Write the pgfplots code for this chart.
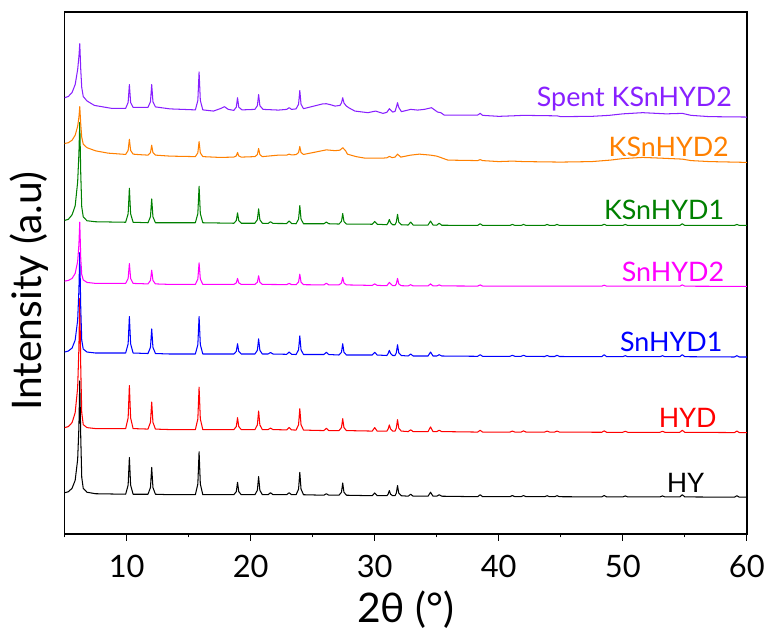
\documentclass[border=0pt]{standalone}
\usepackage{pgfplots}
\pgfplotsset{compat=1.18}
\usepackage{fontspec}
\setmainfont{Lato}
\definecolor{cviolet}{RGB}{136,32,255}
\definecolor{corange}{RGB}{255,128,0}
\definecolor{cgreen}{RGB}{0,128,0}
\definecolor{cmagenta}{RGB}{255,0,255}
\definecolor{cblue}{RGB}{0,0,255}
\definecolor{cred}{RGB}{255,0,0}
\begin{document}
\begin{tikzpicture}
\begin{axis}[
  scale only axis, width=686pt, height=525pt,
  xmin=5, xmax=60, ymin=12, ymax=537, y dir=reverse,
  axis line style={line width=1.6pt},
  xtick={10,20,...,60}, minor xtick={5,15,...,55},
  xtick pos=bottom, tick align=outside,
  major tick length=7pt, minor tick length=3.5pt,
  ytick=\empty,
  every tick/.style={black, line width=1.2pt},
  ticklabel style={font=\fontsize{31}{34}\selectfont},
  xticklabel style={yshift=-11pt},
  /pgf/number format/assume math mode=true,
  xlabel={2θ (°)}, ylabel={Intensity (a.u)},
  label style={font=\fontsize{41}{44}\selectfont},
  xlabel style={at={(axis description cs:0.5,0)},anchor=north,yshift=-54pt},
  ylabel style={at={(axis description cs:-0.024,0.465)},anchor=south,inner sep=0pt},
  every axis plot/.append style={line width=1.05pt, line join=round},
]
% HY
\addplot[black] coordinates {
(5.0,495.5)(5.3,494.5)(5.6,491)(5.85,483)(6.05,462)(6.15,430)(6.22,383)(6.3,440)(6.38,480)(6.5,491)(6.8,495)(7.5,496.5)(9.92,497)
(10.12,487.8)(10.22,460)(10.32,487.8)(10.52,497)
(11.72,497)(11.92,490.3)(12.02,470)(12.12,490.3)(12.32,497)
(13.5,497.5)(15.54,497.5)(15.74,486.7)(15.84,454.3)(15.94,486.7)(16.14,497.5)
(18.64,497.5)(18.84,494.4)(18.94,485)(19.04,494.4)(19.24,497.5)
(20.34,497.5)(20.54,493)(20.64,479.3)(20.74,493)(20.94,497.5)
(21.4,497.5)(21.6,495.5)(21.8,497.5)
(22.9,497.5)(23.1,495.5)(23.3,497.5)
(23.66,497.5)(23.86,491.9)(23.96,475)(24.06,491.9)(24.26,497.5)
(25.9,498)(26.1,496.5)(26.3,498)
(27.12,498)(27.32,495)(27.42,485.7)(27.52,495)(27.72,498)
(29.8,498.5)(30.0,495.7)(30.2,498.5)
(30.98,498.5)(31.08,497)(31.18,493.3)(31.28,497)(31.45,498.5)
(31.64,498.5)(31.74,496)(31.84,488.3)(31.94,496)(32.14,498.5)
(32.7,499)(32.9,497)(33.1,499)
(34.3,499)(34.5,495)(34.7,499)
(35.0,499)(35.2,497.5)(35.4,499)
(38.3,499.5)(38.5,497.5)(38.7,499.5)
(40.9,499.5)(41.1,498.3)(41.3,499.5)
(41.8,499.5)(42.0,498.3)(42.2,499.5)
(43.7,499.5)(43.9,498.5)(44.1,499.5)
(44.5,499.5)(44.7,498.5)(44.9,499.5)
(48.3,499.7)(48.5,498.3)(48.7,499.7)
(50.0,499.7)(50.2,498.7)(50.4,499.7)
(53.0,499.7)(53.2,498.7)(53.4,499.7)
(54.6,499.7)(54.8,497.5)(55.0,499.7)
(59.0,500)(59.2,498.5)(59.4,500)(60,500)
};
% HYD
\addplot[cred] coordinates {
(5.0,430)(5.3,429)(5.6,425)(5.85,415)(6.05,390)(6.15,350)(6.22,300)(6.3,370)(6.38,415)(6.5,427)(6.8,430)(7.5,431)(9.92,431)
(10.12,420.2)(10.22,387.7)(10.32,420.2)(10.52,431)
(11.72,431.5)(11.92,424.7)(12.02,404.3)(12.12,424.7)(12.32,431.5)
(13.5,432)(15.54,432)(15.74,421.3)(15.84,389.3)(15.94,421.3)(16.14,432)
(18.64,432)(18.84,429)(18.94,420)(19.04,429)(19.24,432)
(20.34,432)(20.54,427.3)(20.64,413.3)(20.74,427.3)(20.94,432)
(21.4,432)(21.6,430.5)(21.8,432)
(22.9,432.3)(23.1,430)(23.3,432.3)
(23.66,432.5)(23.86,427.1)(23.96,411)(24.06,427.1)(24.26,432.5)
(25.9,433)(26.1,430.7)(26.3,433)
(27.12,433)(27.32,430)(27.42,421)(27.52,430)(27.72,433)
(29.8,433.5)(30.0,430)(30.2,433.5)
(30.98,433.5)(31.08,431.5)(31.18,427.3)(31.28,431.5)(31.45,433.5)
(31.64,433.5)(31.74,430.6)(31.84,422)(31.94,430.6)(32.14,433.5)
(32.7,434)(32.9,432.3)(33.1,434)
(34.3,434)(34.5,429.3)(34.7,434)
(35.0,434)(35.2,432.7)(35.4,434)
(38.3,434.5)(38.5,432.7)(38.7,434.5)
(40.9,434.5)(41.1,433.5)(41.3,434.5)
(41.8,434.5)(42.0,433.3)(42.2,434.5)
(43.7,434.5)(43.9,433.5)(44.1,434.5)
(44.5,434.5)(44.7,433.5)(44.9,434.5)
(48.3,434.7)(48.5,433.3)(48.7,434.7)
(50.0,434.7)(50.2,433.7)(50.4,434.7)
(53.0,434.7)(53.2,433.7)(53.4,434.7)
(54.6,434.7)(54.8,432.7)(55.0,434.7)
(59.0,435)(59.2,433.5)(59.4,435)(60,435)
};
% SnHYD1
\addplot[cblue] coordinates {
(5.0,354)(5.3,353)(5.6,350)(5.85,342)(6.05,322)(6.15,292)(6.22,254)(6.3,310)(6.38,342)(6.5,351)(6.8,354)(7.5,355)(9.92,355)
(10.12,345.8)(10.22,318.3)(10.32,345.8)(10.52,355)
(11.72,355.5)(11.92,349.3)(12.02,330.7)(12.12,349.3)(12.32,355.5)
(13.5,356)(15.54,356)(15.74,346.6)(15.84,318.3)(15.94,346.6)(16.14,356)
(18.64,356)(18.84,353.4)(18.94,345.7)(19.04,353.4)(19.24,356)
(20.34,356)(20.54,352.2)(20.64,340.7)(20.74,352.2)(20.94,356)
(21.4,356)(21.6,354.5)(21.8,356)
(22.9,356.3)(23.1,354)(23.3,356.3)
(23.66,356.5)(23.86,351.8)(23.96,337.7)(24.06,351.8)(24.26,356.5)
(25.9,356.5)(26.1,354.3)(26.3,356.5)
(27.12,357)(27.32,354.2)(27.42,345.7)(27.52,354.2)(27.72,357)
(29.8,357)(30.0,354.3)(30.2,357)
(30.98,357.5)(31.08,355.5)(31.18,352.3)(31.28,355.5)(31.45,357.5)
(31.64,357.5)(31.74,354.8)(31.84,346.7)(31.94,354.8)(32.14,357.5)
(32.7,358)(32.9,356)(33.1,358)
(34.3,358)(34.5,354)(34.7,358)
(35.0,358)(35.2,356.7)(35.4,358)
(38.3,358.3)(38.5,356.7)(38.7,358.3)
(40.9,358.3)(41.1,357.3)(41.3,358.3)
(41.8,358.3)(42.0,357.3)(42.2,358.3)
(43.7,358.5)(43.9,357.5)(44.1,358.5)
(44.5,358.5)(44.7,357.3)(44.9,358.5)
(48.3,358.7)(48.5,356.7)(48.7,358.7)
(50.0,358.7)(50.2,357.7)(50.4,358.7)
(53.0,358.7)(53.2,357.7)(53.4,358.7)
(54.6,358.7)(54.8,356.7)(55.0,358.7)
(59.0,359)(59.2,357.7)(59.4,359)(60,359)
};
% SnHYD2
\addplot[cmagenta] coordinates {
(5.0,282.7)(5.3,282)(5.6,280)(5.85,275)(6.05,263)(6.15,246)(6.22,223.3)(6.3,260)(6.38,276)(6.5,281.5)(6.8,284)(7.5,285)(9.92,285)
(10.12,280)(10.22,265)(10.32,280)(10.52,285)
(11.72,285.5)(11.92,282)(12.02,271.7)(12.12,282)(12.32,285.5)
(13.5,286)(15.54,286)(15.74,280.6)(15.84,264.3)(15.94,280.6)(16.14,286)
(18.64,286)(18.84,284.5)(18.94,280)(19.04,284.5)(19.24,286)
(20.34,286)(20.54,283.8)(20.64,277.3)(20.74,283.8)(20.94,286)
(22.9,286.2)(23.1,285)(23.3,286.2)
(23.66,286.3)(23.86,283.7)(23.96,275.7)(24.06,283.7)(24.26,286.3)
(25.9,286.5)(26.1,284.8)(26.3,286.5)
(27.12,286.5)(27.32,284.6)(27.42,279)(27.52,284.6)(27.72,286.5)
(29.8,287)(30.0,285.5)(30.2,287)
(30.98,287.3)(31.18,284)(31.45,287.3)
(31.64,287.3)(31.74,285.5)(31.84,280)(31.94,285.5)(32.14,287.3)
(32.7,287.5)(32.9,286.3)(33.1,287.5)
(34.3,287.5)(34.5,285.5)(34.7,287.5)
(35.0,287.5)(35.2,286.5)(35.4,287.5)
(38.3,287.7)(38.5,286.5)(38.7,287.7)
(48.3,287.8)(48.5,286.8)(48.7,287.8)
(54.6,287.8)(54.8,286.5)(55.0,287.8)
(60,288)
};
% KSnHYD1
\addplot[cgreen] coordinates {
(5.0,221.7)(5.3,220.5)(5.6,216)(5.85,207)(6.05,183)(6.15,155)(6.22,123)(6.3,175)(6.38,208)(6.5,218)(6.8,222)(7.5,223)(9.92,223.5)
(10.12,215)(10.22,189.3)(10.32,215)(10.52,223.5)
(11.72,224)(11.92,218)(12.02,200)(12.12,218)(12.32,224)
(13.5,224)(15.54,224)(15.74,214.8)(15.84,187.3)(15.94,214.8)(16.14,224)
(18.64,224.5)(18.84,221.9)(18.94,214)(19.04,221.9)(19.24,224.5)
(20.34,224.5)(20.54,220.9)(20.64,210)(20.74,220.9)(20.94,224.5)
(21.4,224.7)(21.6,223)(21.8,224.7)
(22.9,224.8)(23.1,222.3)(23.3,224.8)
(23.66,225)(23.86,220.4)(23.96,206.7)(24.06,220.4)(24.26,225)
(25.9,225)(26.1,223.3)(26.3,225)
(27.12,225.3)(27.32,222.7)(27.42,214.7)(27.52,222.7)(27.72,225.3)
(29.8,225.5)(30.0,222.7)(30.2,225.5)
(30.98,226)(31.08,224)(31.18,220.7)(31.28,224)(31.45,226)
(31.64,226)(31.74,223.4)(31.84,215.5)(31.94,223.4)(32.14,226)
(32.7,226.3)(32.9,223.3)(33.1,226.3)
(34.3,226.3)(34.5,222.3)(34.7,226.3)
(35.0,226.5)(35.2,224.5)(35.4,226.5)
(38.3,226.7)(38.5,225)(38.7,226.7)
(40.9,226.7)(41.1,225.7)(41.3,226.7)
(41.8,226.7)(42.0,225.7)(42.2,226.7)
(43.7,226.7)(43.9,225.7)(44.1,226.7)
(44.5,226.7)(44.7,225.7)(44.9,226.7)
(48.3,226.7)(48.5,225.5)(48.7,226.7)
(50.0,226.7)(50.2,225.7)(50.4,226.7)
(54.6,226.7)(54.8,225)(55.0,226.7)
(59.0,226.7)(59.2,225.7)(59.4,226.7)(60,226.7)
};
% KSnHYD2
\addplot[corange] coordinates {
(5.0,144.3)(5.3,143.5)(5.6,141)(5.85,136)(6.05,127)(6.15,118)(6.22,107.3)(6.3,125)(6.38,138)(6.5,145)(6.8,148.5)(7.5,151.7)(8.5,154)(9.92,155.3)
(10.12,151.3)(10.22,140)(10.32,151.3)(10.52,155)
(11.0,155.5)(11.72,156)(11.92,153.5)(12.02,146)(12.12,153.5)(12.32,156)
(13.5,157)(15.54,157.5)(15.74,153.7)(15.84,142.3)(15.94,153.7)(16.14,157.5)
(17.5,158.3)(18.64,158)(18.84,156.8)(18.94,153.3)(19.04,156.8)(19.24,158)
(20.34,157.5)(20.54,155.5)(20.64,149.3)(20.74,155.5)(20.94,157.5)
(22.24,156)(22.9,156)(23.1,155)(23.3,155.8)
(23.66,155.5)(23.86,153.4)(23.96,147.3)(24.06,153.4)(24.26,155.3)
(25.0,153.5)(26.1,150.7)(26.8,151.5)(27.2,151)(27.42,148.5)(27.65,151.5)(27.8,155)(28.5,157.5)(29.2,159)(30.0,159)(30.66,159)(30.98,158.7)(31.18,157.3)(31.4,158.5)(31.64,158)(31.84,155)(32.1,158)(32.9,156)(33.6,155)(34.5,156)(35.0,157)(35.3,158.3)(35.9,161)(38.3,161.5)(38.5,160.5)(38.7,161.5)(40,162.5)(41.1,162)(42,162.5)(45,163)(47.5,162.5)(49,161)(50,159.5)(51.6,158.3)(53,159)(54.8,160)(55.5,161.5)(57,162.5)(60,163.3)
};
% Spent KSnHYD2
\addplot[cviolet] coordinates {
(5.0,98.3)(5.3,97)(5.6,93)(5.85,85)(6.05,70)(6.15,57)(6.22,44)(6.3,70)(6.38,88)(6.5,97)(6.8,101.5)(7.4,106)(8.8,109)(9.92,109)
(10.12,103)(10.22,85)(10.32,103)(10.52,108)
(11.72,108)(11.92,102.3)(12.02,85)(12.12,102.3)(12.32,107.5)
(13.5,109.5)(15.54,110.5)(15.74,101)(15.84,72.3)(15.94,101)(16.14,110.5)
(17.0,111.7)(17.6,109)(17.88,107.3)(18.2,110)(18.64,111)(18.84,107.8)(18.94,98.3)(19.04,107.8)(19.3,110.5)
(20.34,110)(20.54,106.3)(20.64,95)(20.74,106.3)(21.0,110)
(22.24,110.7)(22.9,110)(23.1,108.3)(23.3,110)
(23.66,109.5)(23.86,104.9)(23.96,91)(24.06,104.9)(24.26,109.3)
(25.0,107)(25.8,104.5)(26.1,104.3)(26.5,105.5)(26.8,106.7)(27.2,106)(27.32,103.5)(27.42,98.3)(27.52,103.5)(27.7,106.5)(27.9,108.3)(28.4,111.7)(29.45,113.3)(30.07,111.7)(30.66,114)(30.98,113)(31.18,109.3)(31.45,112.7)(31.64,112)(31.74,108)(31.84,103.3)(31.94,108)(32.15,112.3)(32.9,110)(33.46,110.7)(34.0,110)(34.58,108.3)(35.07,112.7)(35.33,113.3)(35.6,115.7)(38.3,115.7)(38.5,114)(38.7,116)(40,117)(41.1,116.5)(42,116)(44.7,116.5)(45,117.3)(47.5,117)(48.9,116)(50,114.5)(51.6,113.3)(53.5,114.5)(54.8,114)(55.5,116)(57,117.3)(60,117.7)
};
\begin{scope}[every node/.style={font=\fontsize{27}{30}\selectfont, inner sep=0pt, anchor=base east}]
\node[text=cviolet]  at (axis cs:58.80,107.3) {Spent KSnHYD2};
\node[text=corange]  at (axis cs:58.56,157.3) {KSnHYD2};
\node[text=cgreen]   at (axis cs:58.18,220.7) {KSnHYD1};
\node[text=cmagenta] at (axis cs:58.18,283.3) {SnHYD2};
\node[text=cblue]    at (axis cs:58.05,353.3) {SnHYD1};
\node[text=cred]     at (axis cs:57.57,430)   {HYD};
\node[text=black]    at (axis cs:56.58,495)   {HY};
\end{scope}
\end{axis}
\path ([xshift=-65pt,yshift=-96pt]current axis.south west) rectangle ([xshift=17pt,yshift=12pt]current axis.north east);
\end{tikzpicture}
\end{document}
